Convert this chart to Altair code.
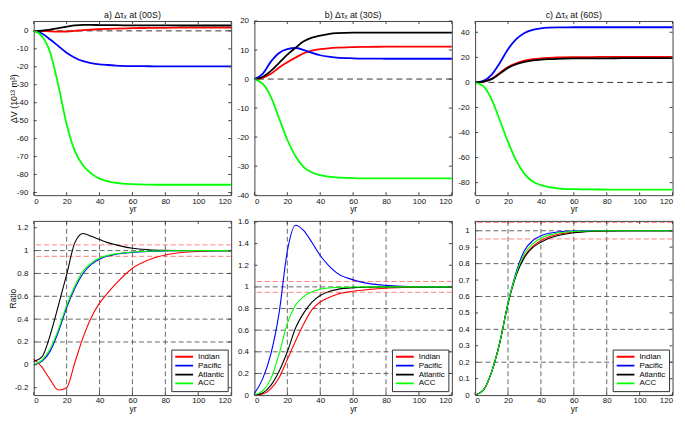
import altair as alt
import pandas as pd

# ---------------- data ----------------
years = [0, 5, 10, 15, 20, 25, 30, 35, 40, 45, 50, 60, 70, 80, 90, 100, 110, 120]
basins = ["Indian", "Pacific", "Atlantic", "ACC"]
basin_colors = ["#ff0000", "#0000ff", "#000000", "#00ff00"]
panel_titles = ["a) Δτₓ at (00S)", "b) Δτₓ at (30S)", "c) Δτₓ at (60S)"]

# volume change ΔV (10^13 m^3)
dv00_indian = [0, -0.1, -0.3, -0.4, -0.35, 0.0, 0.45, 0.75, 0.95, 1.13, 1.28, 1.5, 1.65, 1.73, 1.77, 1.79, 1.8, 1.8]
dv00_pacific = [0, -1.5, -4.8, -8.5, -12.2, -15.0, -16.9, -17.9, -18.6, -19.0, -19.3, -19.6, -19.7, -19.8, -19.8, -19.8, -19.8, -19.8]
dv00_atlantic = [0, 0.2, 0.7, 1.5, 2.3, 3.0, 3.3, 3.3, 3.25, 3.2, 3.15, 3.08, 3.03, 3.01, 3.0, 3.0, 3.0, 3.0]
dv00_acc = [0, -3.0, -12.0, -30.5, -52.0, -67.0, -75.0, -79.5, -82.3, -83.8, -84.7, -85.4, -85.6, -85.7, -85.7, -85.7, -85.7, -85.7]

dv30_indian = [0, 0.4, 1.8, 4.0, 5.8, 7.4, 8.9, 9.8, 10.3, 10.6, 10.8, 11.0, 11.1, 11.15, 11.2, 11.2, 11.2, 11.2]
dv30_pacific = [0, 1.8, 6.0, 9.0, 10.3, 10.7, 10.0, 9.0, 8.2, 7.7, 7.4, 7.15, 7.05, 7.0, 7.0, 7.0, 7.0, 7.0]
dv30_atlantic = [0, 0.7, 2.8, 5.6, 8.4, 10.8, 13.0, 14.3, 15.0, 15.5, 15.8, 16.0, 16.0, 16.0, 16.0, 16.0, 16.0, 16.0]
dv30_acc = [0, -1.6, -6.1, -13.5, -20.9, -26.6, -30.3, -32.2, -33.1, -33.6, -33.9, -34.1, -34.2, -34.2, -34.2, -34.2, -34.2, -34.2]

dv60_indian = [0, 0.7, 2.8, 7.5, 12.3, 15.3, 17.3, 18.5, 19.2, 19.6, 19.9, 20.15, 20.25, 20.3, 20.3, 20.3, 20.3, 20.3]
dv60_pacific = [0, 1.3, 6.0, 15.5, 26.5, 34.5, 39.5, 42.0, 43.2, 43.7, 43.9, 44.0, 44.0, 44.0, 44.0, 44.0, 44.0, 44.0]
dv60_atlantic = [0, 0.65, 2.6, 7.0, 11.6, 14.5, 16.3, 17.5, 18.2, 18.6, 18.85, 19.1, 19.2, 19.25, 19.3, 19.3, 19.3, 19.3]
dv60_acc = [0, -3.0, -13.5, -30.0, -47.5, -62.5, -73.0, -79.0, -82.0, -83.6, -84.5, -85.2, -85.4, -85.5, -85.5, -85.5, -85.5, -85.5]

# ratio
r00_indian = [0.05, -0.02, -0.13, -0.22, -0.2, 0.02, 0.24, 0.415, 0.54, 0.63, 0.71, 0.845, 0.92, 0.962, 0.983, 0.993, 0.998, 1.0]
r00_pacific = [0.0, 0.03, 0.12, 0.29, 0.5, 0.67, 0.80, 0.88, 0.925, 0.952, 0.968, 0.985, 0.993, 0.997, 0.999, 1.0, 1.0, 1.0]
r00_atlantic = [0.03, 0.07, 0.26, 0.52, 0.79, 1.07, 1.15, 1.125, 1.097, 1.07, 1.05, 1.02, 1.008, 1.003, 1.001, 1.0, 1.0, 1.0]
r00_acc = [0.0, 0.04, 0.14, 0.31, 0.52, 0.69, 0.82, 0.89, 0.935, 0.958, 0.972, 0.988, 0.995, 0.998, 0.999, 1.0, 1.0, 1.0]

r30_indian = [0, 0.01, 0.06, 0.16, 0.33, 0.5, 0.66, 0.79, 0.86, 0.9, 0.93, 0.96, 0.977, 0.988, 0.994, 0.997, 0.999, 1.0]
r30_pacific = [0.015, 0.15, 0.38, 0.76, 1.33, 1.57, 1.52, 1.41, 1.29, 1.2, 1.13, 1.065, 1.03, 1.014, 1.006, 1.002, 1.0, 1.0]
r30_atlantic = [0, 0.02, 0.09, 0.22, 0.4, 0.62, 0.76, 0.86, 0.92, 0.955, 0.975, 0.993, 0.998, 1.0, 1.0, 1.0, 1.0, 1.0]
r30_acc = [0, 0.04, 0.15, 0.38, 0.66, 0.83, 0.91, 0.955, 0.978, 0.99, 0.995, 0.999, 1.0, 1.0, 1.0, 1.0, 1.0, 1.0]

r60_indian = [0, 0.03, 0.14, 0.32, 0.56, 0.735, 0.845, 0.905, 0.94, 0.963, 0.977, 0.992, 0.997, 0.999, 1.0, 1.0, 1.0, 1.0]
r60_pacific = [0, 0.03, 0.14, 0.32, 0.56, 0.75, 0.88, 0.94, 0.97, 0.985, 0.993, 0.999, 1.0, 1.0, 1.0, 1.0, 1.0, 1.0]
r60_atlantic = [0, 0.03, 0.14, 0.32, 0.555, 0.73, 0.838, 0.897, 0.93, 0.955, 0.97, 0.988, 0.996, 0.999, 1.0, 1.0, 1.0, 1.0]
r60_acc = [0, 0.03, 0.14, 0.32, 0.56, 0.74, 0.86, 0.92, 0.955, 0.975, 0.986, 0.996, 0.999, 1.0, 1.0, 1.0, 1.0, 1.0]

x_ticks = [0, 20, 40, 60, 80, 100, 120]
dv00_ticks = [-90, -80, -70, -60, -50, -40, -30, -20, -10, 0]
dv30_ticks = [-40, -30, -20, -10, 0, 10, 20]
dv60_ticks = [-80, -60, -40, -20, 0, 20, 40]
r00_ticks = [-0.2, 0, 0.2, 0.4, 0.6, 0.8, 1.0, 1.2]
r30_ticks = [0, 0.2, 0.4, 0.6, 0.8, 1.0, 1.2, 1.4, 1.6]
r60_ticks = [0, 0.1, 0.2, 0.3, 0.4, 0.5, 0.6, 0.7, 0.8, 0.9, 1.0]

grid_x = [20, 40, 60, 80]
grid_y = [0.2, 0.4, 0.6, 0.8, 1.0]
band_y = [0.95, 1.05]
zero_y = [0]

# ---------------- styling ----------------
W, H = 199.5, 176
FONT = "Liberation Sans"
FRAME = "#444444"
TICK = 3


def panel(title, series, ydomain, yticks, ytitle, ytitle_size, ratio):
    df = pd.DataFrame({
        "yr": years * 4,
        "v": [v for s in series for v in s],
        "basin": [b for b in basins for _ in years],
    })
    x_axis = alt.Axis(values=x_ticks, ticks=False, domain=False, grid=False,
                      labelPadding=2, title="yr", titlePadding=0, format="d")
    yargs = dict(values=yticks, ticks=False, domain=False, grid=False, labelPadding=6,
                 labelExpr="replace(format(datum.value, '~g'), '\u2212', '-')")
    if ytitle:
        yargs.update(title=ytitle, titleX=-24.5 + ytitle_size, titleY=H / 2 - 10,
                     titleAngle=270, titleAlign="center", titleBaseline="bottom",
                     titleFontSize=ytitle_size)
    else:
        yargs.update(title=None)
    y_axis = alt.Axis(**yargs)
    xenc = alt.X("yr:Q", scale=alt.Scale(domain=[0, 120], nice=False, zero=False), axis=x_axis)
    yenc = alt.Y("v:Q", scale=alt.Scale(domain=ydomain, nice=False, zero=False), axis=y_axis)

    layers = []
    if ratio:
        layers.append(alt.Chart(pd.DataFrame({"yr": grid_x})).mark_rule(
            color="#555555", strokeDash=[5, 3], strokeWidth=0.9).encode(x=xenc))
        layers.append(alt.Chart(pd.DataFrame({"v": grid_y})).mark_rule(
            color="#555555", strokeDash=[5, 3], strokeWidth=0.9).encode(y=yenc))
        layers.append(alt.Chart(pd.DataFrame({"v": band_y})).mark_rule(
            color="#ff7070", strokeDash=[5, 3], strokeWidth=0.9).encode(y=yenc))
        legend = alt.Legend(title=None, orient="bottom-right", offset=4, padding=3,
                            strokeColor="#333333", fillColor="white", symbolType="stroke",
                            symbolSize=324, symbolStrokeWidth=1.8, clipHeight=8.5,
                            rowPadding=0, labelOffset=4, labelFontSize=8, labelFont=FONT,
                            labelColor="#000000")
        lw = 1.1
    else:
        layers.append(alt.Chart(pd.DataFrame({"v": zero_y})).mark_rule(
            color="#333333", strokeDash=[6, 4], strokeWidth=1).encode(y=yenc))
        legend = None
        lw = 1.8

    color = alt.Color("basin:N", scale=alt.Scale(domain=basins, range=basin_colors), legend=legend)
    for b in basins:
        layers.append(alt.Chart(df).transform_filter(alt.datum.basin == b).mark_line(
            interpolate="monotone", strokeWidth=lw).encode(x=xenc, y=yenc, color=color))

    xt = pd.DataFrame({"yr": x_ticks})
    yt = pd.DataFrame({"v": yticks})
    tick = dict(color=FRAME, strokeWidth=1)
    layers.append(alt.Chart(xt).mark_rule(**tick).encode(x=xenc, y=alt.value(H), y2=alt.value(H - TICK)))
    layers.append(alt.Chart(xt).mark_rule(**tick).encode(x=xenc, y=alt.value(0), y2=alt.value(TICK)))
    layers.append(alt.Chart(yt).mark_rule(**tick).encode(y=yenc, x=alt.value(0), x2=alt.value(TICK)))
    layers.append(alt.Chart(yt).mark_rule(**tick).encode(y=yenc, x=alt.value(W), x2=alt.value(W - TICK)))

    if title:
        layers.append(alt.Chart(pd.DataFrame({"label": [title]})).mark_text(
            font=FONT, fontSize=9, baseline="bottom", align="center", color="#111111"
        ).encode(text="label:N", x=alt.value(W / 2), y=alt.value(-1)))
    return alt.layer(*layers).properties(width=W, height=H)


panels = [
    panel(panel_titles[0], [dv00_indian, dv00_pacific, dv00_atlantic, dv00_acc],
          [-91.5, 5.5], dv00_ticks, "ΔV (10¹³ m³)", 9, False),
    panel(panel_titles[1], [dv30_indian, dv30_pacific, dv30_atlantic, dv30_acc],
          [-40, 20], dv30_ticks, None, 0, False),
    panel(panel_titles[2], [dv60_indian, dv60_pacific, dv60_atlantic, dv60_acc],
          [-90, 49], dv60_ticks, None, 0, False),
    panel(None, [r00_indian, r00_pacific, r00_atlantic, r00_acc],
          [-0.265, 1.26], r00_ticks, "Ratio", 8.5, True),
    panel(None, [r30_indian, r30_pacific, r30_atlantic, r30_acc],
          [0, 1.61], r30_ticks, None, 0, True),
    panel(None, [r60_indian, r60_pacific, r60_atlantic, r60_acc],
          [0, 1.06], r60_ticks, None, 0, True),
]

chart = alt.concat(*panels, columns=3, spacing={"row": 26, "column": 23}, bounds="flush").resolve_scale(
    x="independent", y="independent", color="independent"
).resolve_axis(x="independent", y="independent").resolve_legend(color="independent").properties(
    padding=0
).configure_view(stroke=FRAME, strokeWidth=1).configure_axis(
    labelFont=FONT, labelFontSize=8, labelColor="#111111",
    titleFont=FONT, titleFontSize=8.5, titleFontWeight="normal", titleColor="#111111"
)

chart.save("out.html", embed_options={"renderer": "svg", "actions": False})
